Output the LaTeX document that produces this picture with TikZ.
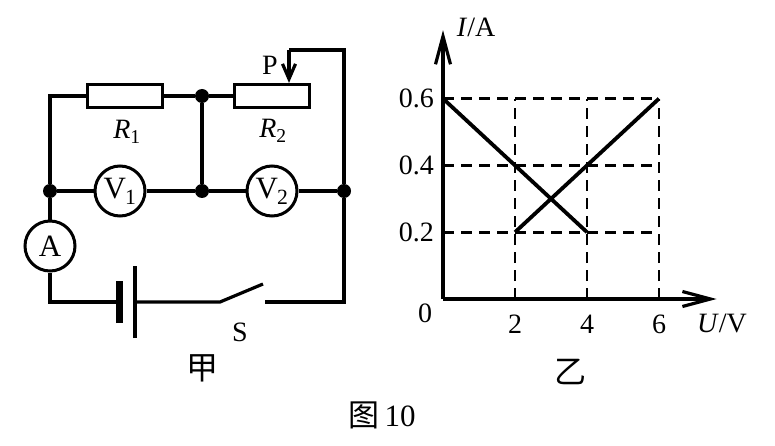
\documentclass[tikz,border=0pt]{standalone}
\usepackage{fontspec}
\setmainfont{Liberation Serif}
\newfontfamily\cjk{Noto Sans CJK SC}
\usetikzlibrary{arrows.meta}

\begin{document}
\begin{tikzpicture}[x=1pt, y=-1pt,
  wire/.style={line width=3.2pt},
  res/.style={draw, rectangle, line width=3.2pt, minimum width=75pt, minimum height=23pt, inner sep=0pt},
  meter/.style={draw, circle, line width=3pt, minimum size=50pt, inner sep=0pt, font=\fontsize{31}{33}\selectfont},
  junction/.style={circle, fill=black, minimum size=14pt, inner sep=0pt},
  lbl/.style={font=\fontsize{28}{31}\selectfont, inner sep=0pt},
  gridline/.style={line width=2.8pt, dash pattern=on 11pt off 7pt},
  graphline/.style={line width=3.8pt},
  axisline/.style={line width=3.2pt, -{Straight Barb[length=28pt,width=15pt]}}
]
\useasboundingbox (0,0) rectangle (775,446);

% Circuit parts
\node[res] (rone) at (125,96) {};
\node[junction] (jtop) at (202,96) {};
\node[res] (rtwo) at (272,96) {};
\node[junction] (jleft) at (50,191) {};
\node[meter] (vone) at (120,191) {V\kern-1pt\textsubscript{1}};
\node[junction] (jmid) at (202,191) {};
\node[meter] (vtwo) at (272,191) {V\kern-1pt\textsubscript{2}};
\node[junction] (jright) at (344,191) {};
\node[meter] (amm) at (50,246) {A};

\coordinate (ctl) at (50,96);
\coordinate (cbl) at (50,302);
\coordinate (bneg) at (119,302);
\coordinate (bpos) at (135,302);
\coordinate (spivot) at (220,302);
\coordinate (sblade) at (263,284);
\coordinate (scontact) at (265,302);
\coordinate (cbr) at (344,302);
\coordinate (ctr) at (344,50);
\coordinate (ptop) at (289,50);

% Wires
\draw[wire] (jleft) -- (ctl) -- (rone);
\draw[wire] (rone) -- (jtop) -- (rtwo);
\draw[wire] (jtop) -- (jmid);
\draw[wire] (jleft) -- (vone) -- (jmid) -- (vtwo) -- (jright);
\draw[wire] (jleft) -- (amm);
\draw[wire] (amm) -- (cbl) -- (bneg);
\draw[wire] (bpos) -- (spivot) -- (sblade);
\draw[wire] (scontact) -- (cbr) -- (jright) -- (ctr) -- (ptop);
\draw[wire, -{Straight Barb[length=15pt,width=13pt]}] (ptop) -- (ptop |- rtwo.north);

% Battery
\draw[line width=7pt] ([yshift=-21pt]bneg) -- ([yshift=21pt]bneg);
\draw[line width=3.2pt] ([yshift=-36pt]bpos) -- ([yshift=36pt]bpos);

% Circuit labels
\node[lbl] (lrone) at (127,132) {\textit{R}\textsubscript{1}};
\node[lbl] (lrtwo) at (273,131) {\textit{R}\textsubscript{2}};
\node[lbl] (lp) at (270,65) {P};
\node[lbl] (ls) at (240,332) {S};
\node[lbl, font=\cjk\fontsize{32}{34}\selectfont] (ljia) at (202,368) {甲};

% Graph
\coordinate (orig) at (443,299);
\begin{scope}[shift={(orig)}, x=36pt, y=334pt]
\foreach \u in {2,4,6} \draw[gridline] (\u,0) -- (\u,0.6);
\foreach \i in {0.2,0.4,0.6} \draw[gridline] (0,\i) -- (6,\i);

\coordinate (xend) at (7.6,0);
\coordinate (yend) at (0,0.805);
\draw[axisline] (orig) -- (xend);
\draw[axisline] (orig) -- (yend);

\draw[graphline] (0,0.6) -- (4,0.2);
\draw[graphline] (2,0.2) -- (6,0.6);

% Tick labels
\foreach \u in {2,4,6} \node[lbl] (tx\u) at (\u,-0.075) {\u};
\foreach \i [count=\k] in {0.2,0.4,0.6} \node[lbl, anchor=east] (ty\k) at ([xshift=-9pt]0,\i) {\i};
\node[lbl] (tzero) at (-0.5,-0.042) {0};
\node[lbl] (lu) at (7.75,-0.072) {\textit{U}/V};
\node[lbl] (li) at (0.92,0.814) {\textit{I}/A};
\end{scope}

\node[lbl, font=\cjk\fontsize{32}{34}\selectfont] (lyi) at (570,372) {乙};
\node[lbl, font=\fontsize{31}{33}\selectfont] (lfig) at (382,415) {{\cjk 图}\,10};
\end{tikzpicture}
\end{document}
